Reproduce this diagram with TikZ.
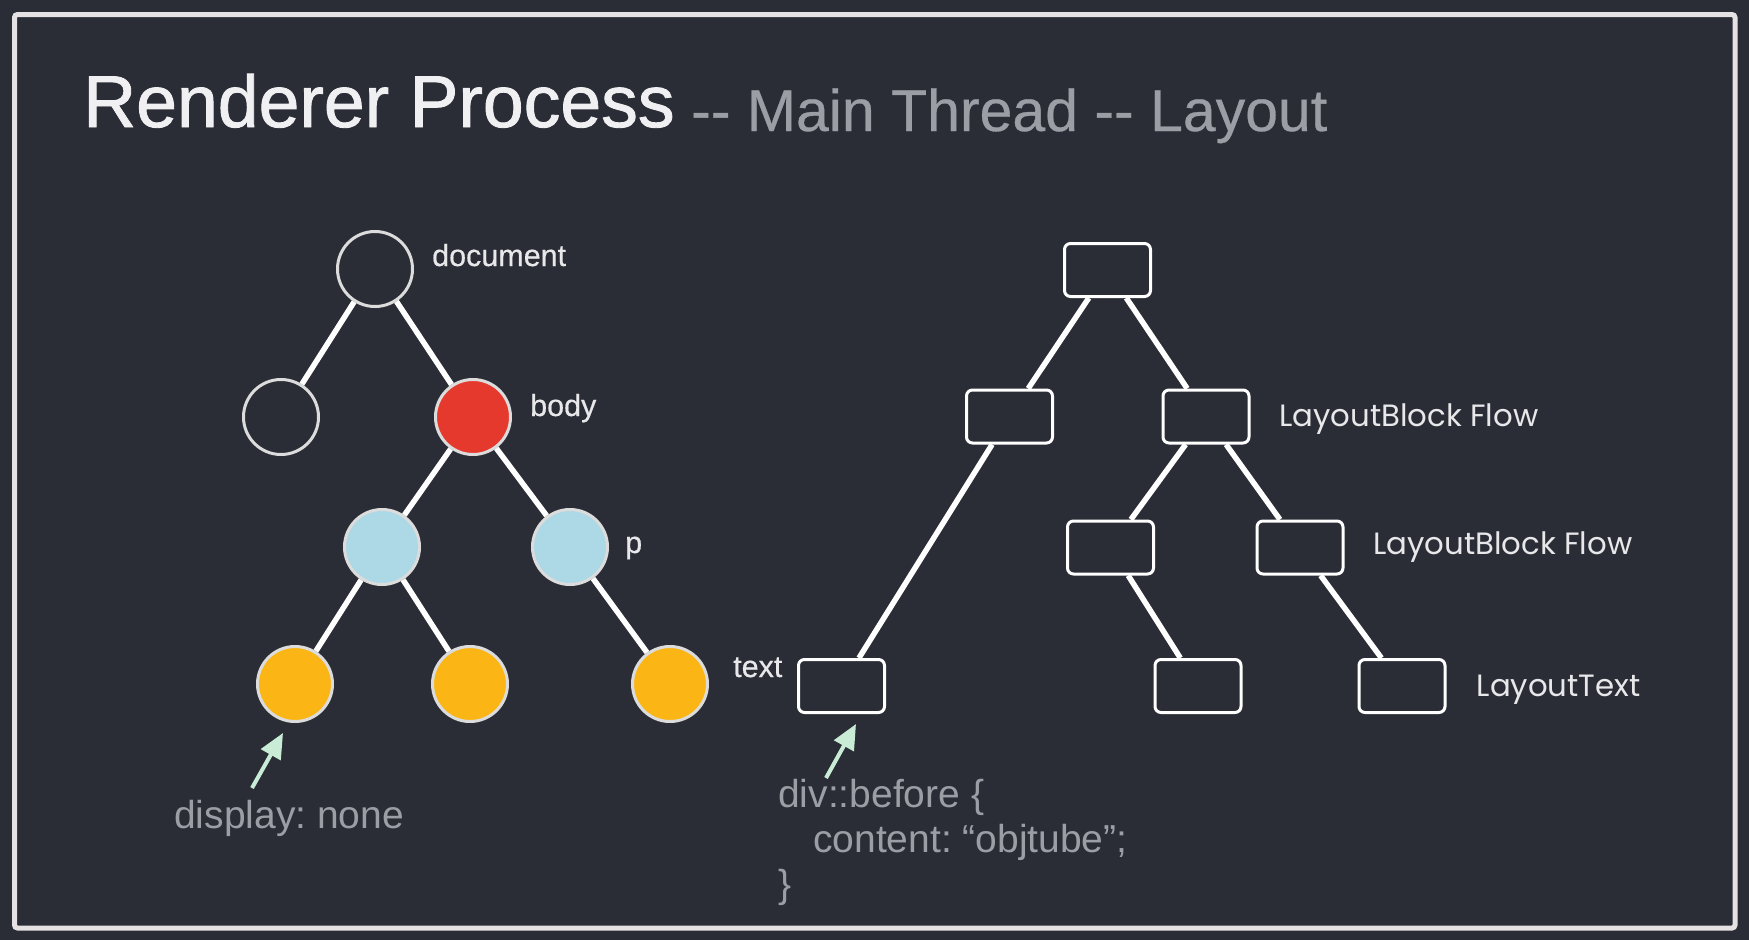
\documentclass[tikz,border=0pt]{standalone}
\usepackage{fontspec}
\setmainfont{Liberation Sans}
\newfontfamily\titlefont{Liberation Sans}[FakeBold=1.2]
\newfontfamily\medfont{Liberation Sans}[FakeBold=0.5]
\newfontfamily\geofont{Poppins}
\usetikzlibrary{arrows.meta}
\frenchspacing
\definecolor{bg}{HTML}{2A2D36}
\definecolor{framec}{HTML}{E6E2E3}
\definecolor{ringc}{HTML}{DCDCDC}
\definecolor{bodyred}{HTML}{E5392E}
\definecolor{pblue}{HTML}{ADD8E6}
\definecolor{tyellow}{HTML}{FBB514}
\definecolor{titlec}{HTML}{F0F0F2}
\definecolor{subc}{HTML}{9B9EA5}
\definecolor{labelc}{HTML}{E8E8EA}
\definecolor{mint}{HTML}{C9ECD6}
\tikzset{
  dnode/.style={circle, minimum size=75pt, inner sep=0pt, line width=3pt, draw=ringc},
  lbox/.style={rectangle, rounded corners=6pt, minimum width=86pt, minimum height=53pt, inner sep=0pt, line width=3pt, draw=white, fill=bg},
  edge/.style={line width=5.5pt, draw=white},
  lbl/.style={font=\medfont\fontsize{30.5}{36}\selectfont, text=labelc, anchor=base west, inner sep=0pt},
  glbl/.style={font=\geofont\fontsize{30.8}{36}\selectfont, text=labelc, anchor=base west, inner sep=0pt},
  note/.style={font=\fontsize{39}{45}\selectfont, text=subc, anchor=base west, inner sep=0pt},
  pointer/.style={draw=mint, line width=4pt, -{Triangle[length=25pt,width=22pt,fill=mint]}}
}
\begin{document}
\begin{tikzpicture}[x=1pt,y=-1pt]
\useasboundingbox (0,0) rectangle (1749,940);
\fill[bg] (0,0) rectangle (1749,940);
\draw[framec, line width=5pt, rounded corners=3pt] (14.5,14.5) rectangle (1735,928);

% title
\node[anchor=base west, inner sep=0pt, text=titlec, font=\titlefont\fontsize{73.4}{80}\selectfont] (title) at (83,127) {Renderer Process};
\node[anchor=base west, inner sep=0pt, text=subc, font=\medfont\fontsize{59}{66}\selectfont] (subtitle) at (691,131) {-{}- Main Thread -{}- Layout};

% DOM tree
\node[dnode, fill=bg] (doc) at (375,269) {};
\node[dnode, fill=bg] (c1) at (281,417) {};
\node[dnode, fill=bodyred] (body) at (473,417) {};
\node[dnode, fill=pblue] (p1) at (382,547) {};
\node[dnode, fill=pblue] (p2) at (570,547) {};
\node[dnode, fill=tyellow] (t1) at (295,684) {};
\node[dnode, fill=tyellow] (t2) at (470,684) {};
\node[dnode, fill=tyellow] (t3) at (670,684) {};

\draw[edge] (doc) -- (c1);
\draw[edge] (doc) -- (body);
\draw[edge] (body) -- (p1);
\draw[edge] (body) -- (p2);
\draw[edge] (p1) -- (t1);
\draw[edge] (p1) -- (t2);
\draw[edge] (p2) -- (t3);

\node[lbl] (ldoc) at (432,266) {document};
\node[lbl] (lbody) at (530,416) {body};
\node[lbl] (lp) at (625,553) {p};
\node[lbl] (ltext) at (733,677) {text};

% Layout tree
\node[lbox] (r0) at (1107.5,270) {};
\node[lbox] (r1) at (1009.5,416.5) {};
\node[lbox] (r2) at (1206,416.5) {};
\node[lbox] (r3) at (1110.5,547.5) {};
\node[lbox] (r4) at (1300,547.5) {};
\node[lbox] (r5) at (841.5,686) {};
\node[lbox] (r6) at (1198,686) {};
\node[lbox] (r7) at (1402,686) {};

\draw[edge] (r0) -- (r1);
\draw[edge] (r0) -- (r2);
\draw[edge] (r1) -- (r5);
\draw[edge] (r2) -- (r3);
\draw[edge] (r2) -- (r4);
\draw[edge] (r3) -- (r6);
\draw[edge] (r4) -- (r7);

\node[glbl] (lf1) at (1279,426) {LayoutBlock Flow};
\node[glbl] (lf2) at (1373,554.5) {LayoutBlock Flow};
\node[glbl] (ltx) at (1476.5,696) {LayoutText};

% annotations
\node[note] (dn) at (174,828) {display: none};
\node[note] (css1) at (778,807) {div::before \{};
\node[note] (css2) at (813,852) {content: “objtube”;};
\node[note] (css3) at (778,897) {\}};

\coordinate (dnTail) at (252,788);
\coordinate (dnTip) at (283,733);
\coordinate (cssTail) at (826,778);
\coordinate (cssTip) at (856,724);
\draw[pointer] (dnTail) -- (dnTip);
\draw[pointer] (cssTail) -- (cssTip);
\end{tikzpicture}
\end{document}
